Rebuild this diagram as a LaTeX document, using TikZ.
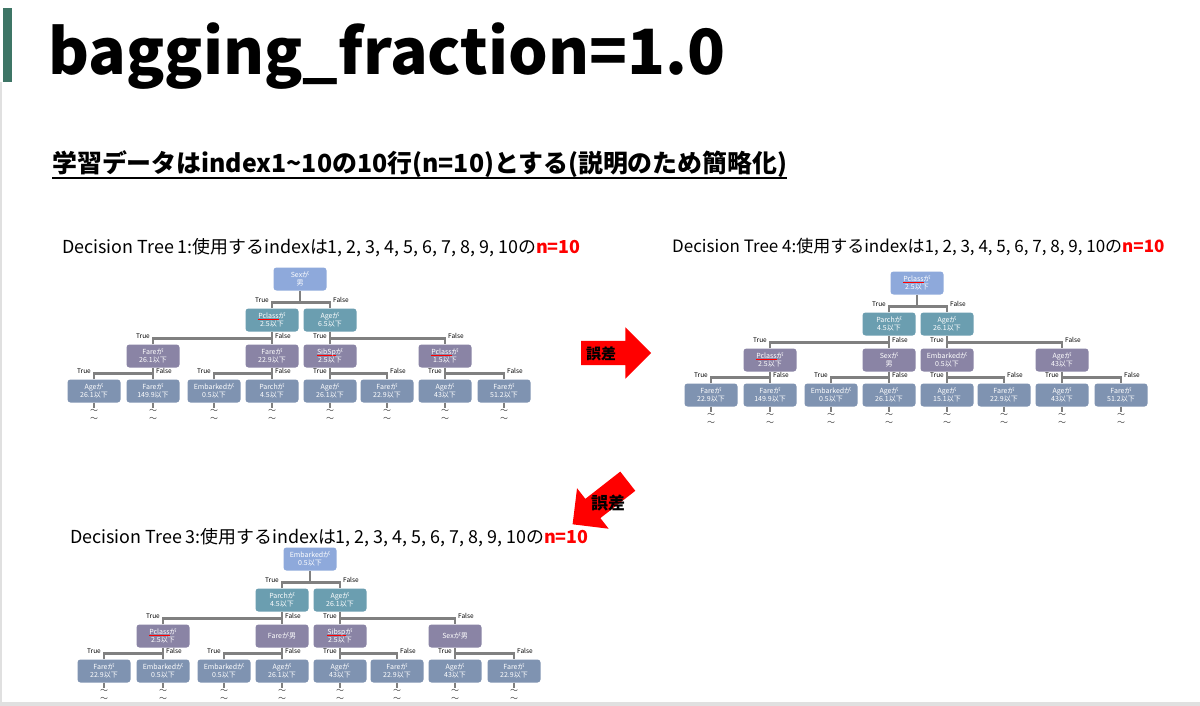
\documentclass[tikz,border=0pt]{standalone}
\usepackage{fontspec}
\setmainfont{Noto Sans CJK JP}
\usetikzlibrary{positioning,calc,shapes.arrows}

\definecolor{rootblue}{HTML}{8EA9DB}
\definecolor{splitteal}{HTML}{6B9EB0}
\definecolor{splitpurple}{HTML}{8A84A5}
\definecolor{leafslate}{HTML}{7F93B1}
\definecolor{edgegray}{HTML}{808080}
\definecolor{bargreen}{HTML}{3E7566}

\newcommand{\spell}[1]{\setbox0\hbox{#1}\rlap{\color{red}\rule[-1.3pt]{\wd0}{0.5pt}}#1}
\newcommand{\branch}[3]{%
  \coordinate (#1bar) at ($(#2.north)+(0,-6)$);
  \draw[edge] (#1.south) -- (#1.south |- #1bar);
  \draw[edge] (#2.north) |- (#1bar) -| (#3.north);
  \node[tf, anchor=east] at ($(#1bar)+(-3,-2)$) {True};
  \node[tf, anchor=west] at ($(#1bar -| #3.north)+(3,-2)$) {False};
}

\begin{document}
\begin{tikzpicture}[
    x=1pt, y=-1pt,
    dnode/.style={rounded corners=3pt, minimum width=53, minimum height=23, inner sep=1pt, align=center, text=white, font=\fontsize{7}{8.5}\selectfont},
    rootnode/.style={dnode, fill=rootblue},
    firstnode/.style={dnode, fill=splitteal},
    secondnode/.style={dnode, fill=splitpurple},
    leafnode/.style={dnode, fill=leafslate},
    edge/.style={draw=edgegray, line width=2.4},
    tf/.style={inner sep=0, font=\fontsize{6.5}{7}\selectfont},
    cont/.style={inner sep=0, align=center, text=black!75, font=\fontsize{8}{8.1}\selectfont},
    head/.style={anchor=west, inner sep=0, font=\fontsize{17.9}{20}\selectfont},
    errarrow/.style={single arrow, fill=red, minimum height=70, inner xsep=0, inner ysep=12, single arrow head extend=13.5},
    errtext/.style={inner sep=0, font=\bfseries\fontsize{15}{15}\selectfont}
]
\useasboundingbox[fill=white] (0,0) rectangle (1200,706);
\fill[black!12] (0,82) rectangle (2,706);
\fill[black!12] (0,702) rectangle (1200,706);
\fill[bargreen] (3,8) rectangle (12,82);

\node[anchor=base west, inner sep=0, font=\bfseries\fontsize{62.4}{70}\selectfont] (title) at (48,75) {bagging\_fraction=1.0};
\node[anchor=base west, inner sep=0, font=\bfseries\fontsize{24.9}{28}\selectfont] (subtitle) at (52,172) {学習データはindex1\textasciitilde 10の10行(n=10)とする(説明のため簡略化)};
\draw[line width=1.8] ([yshift=-1]subtitle.south west) -- ([yshift=-1]subtitle.south east);

\node[head] (head1) at (62,248) {Decision Tree 1:使用するindexは1, 2, 3, 4, 5, 6, 7, 8, 9, 10の\textcolor{red}{\bfseries n=10}};
\node[head, font=\fontsize{17}{19}\selectfont] (head4) at (672,247) {Decision Tree 4:使用するindexは1, 2, 3, 4, 5, 6, 7, 8, 9, 10の\textcolor{red}{\bfseries n=10}};
\node[head] (head3) at (70,538) {Decision Tree 3:使用するindexは1, 2, 3, 4, 5, 6, 7, 8, 9, 10の\textcolor{red}{\bfseries n=10}};

\node[errarrow] (err1) at (610,353) {};
\node[errtext] (err1txt) at (601,354) {誤差};
\node[errarrow, rotate=218] (err2) at (605,499) {};
\node[errtext, font=\bfseries\fontsize{17}{17}\selectfont] (err2txt) at (608,503) {誤差};

\begin{scope}[shift={(300,279)}]
\node[rootnode] (t1r) at (0,0) {Sexが\\男};
\node[firstnode] (t1a) at (-28,41) {\spell{Pclass}が\\2.5以下};
\node[firstnode] (t1b) at (30,41) {Ageが\\6.5以下};
\node[secondnode] (t1aa) at (-147,77) {Fareが\\26.1以下};
\node[secondnode] (t1ab) at (-28,77) {Fareが\\22.9以下};
\node[secondnode] (t1ba) at (30,77) {\spell{SibSp}が\\2.5以下};
\node[secondnode] (t1bb) at (145,77) {\spell{Pclass}が\\1.5以下};
\node[leafnode] (t1aaa) at (-206,112) {Ageが\\26.1以下};
\node[leafnode] (t1aab) at (-147,112) {Fareが\\149.9以下};
\node[leafnode] (t1aba) at (-86,112) {Embarkedが\\0.5以下};
\node[leafnode] (t1abb) at (-28,112) {Parchが\\4.5以下};
\node[leafnode] (t1baa) at (30,112) {Ageが\\26.1以下};
\node[leafnode] (t1bab) at (87,112) {Fareが\\22.9以下};
\node[leafnode] (t1bba) at (145,112) {Ageが\\43以下};
\node[leafnode] (t1bbb) at (204,112) {Fareが\\51.2以下};
\end{scope}

\begin{scope}[shift={(917,283)}]
\node[rootnode] (t4r) at (0,0) {\spell{Pclass}が\\2.5以下};
\node[firstnode] (t4a) at (-28,41) {Parchが\\4.5以下};
\node[firstnode] (t4b) at (30,41) {Ageが\\26.1以下};
\node[secondnode] (t4aa) at (-147,77) {\spell{Pclass}が\\2.5以下};
\node[secondnode] (t4ab) at (-28,77) {Sexが\\男};
\node[secondnode] (t4ba) at (30,77) {Embarkedが\\0.5以下};
\node[secondnode] (t4bb) at (145,77) {Ageが\\43以下};
\node[leafnode] (t4aaa) at (-206,112) {Fareが\\22.9以下};
\node[leafnode] (t4aab) at (-147,112) {Fareが\\149.9以下};
\node[leafnode] (t4aba) at (-86,112) {Embarkedが\\0.5以下};
\node[leafnode] (t4abb) at (-28,112) {Ageが\\26.1以下};
\node[leafnode] (t4baa) at (30,112) {Ageが\\15.1以下};
\node[leafnode] (t4bab) at (87,112) {Fareが\\22.9以下};
\node[leafnode] (t4bba) at (145,112) {Ageが\\43以下};
\node[leafnode] (t4bbb) at (204,112) {Fareが\\51.2以下};
\end{scope}

\begin{scope}[shift={(310,559)}]
\node[rootnode] (t3r) at (0,0) {Embarkedが\\0.5以下};
\node[firstnode] (t3a) at (-28,41) {Parchが\\4.5以下};
\node[firstnode] (t3b) at (30,41) {Ageが\\26.1以下};
\node[secondnode] (t3aa) at (-147,77) {\spell{Pclass}が\\2.5以下};
\node[secondnode] (t3ab) at (-28,77) {Fareが男};
\node[secondnode] (t3ba) at (30,77) {\spell{Sibsp}が\\2.5以下};
\node[secondnode] (t3bb) at (145,77) {Sexが男};
\node[leafnode] (t3aaa) at (-206,112) {Fareが\\22.9以下};
\node[leafnode] (t3aab) at (-147,112) {Embarkedが\\0.5以下};
\node[leafnode] (t3aba) at (-86,112) {Embarkedが\\0.5以下};
\node[leafnode] (t3abb) at (-28,112) {Ageが\\26.1以下};
\node[leafnode] (t3baa) at (30,112) {Ageが\\43以下};
\node[leafnode] (t3bab) at (87,112) {Fareが\\22.9以下};
\node[leafnode] (t3bba) at (145,112) {Ageが\\43以下};
\node[leafnode] (t3bbb) at (204,112) {Fareが\\22.9以下};
\end{scope}

\foreach \tn in {t1,t4,t3} {
  \branch{\tn r}{\tn a}{\tn b}
  \branch{\tn a}{\tn aa}{\tn ab}
  \branch{\tn b}{\tn ba}{\tn bb}
  \branch{\tn aa}{\tn aaa}{\tn aab}
  \branch{\tn ab}{\tn aba}{\tn abb}
  \branch{\tn ba}{\tn baa}{\tn bab}
  \branch{\tn bb}{\tn bba}{\tn bbb}
  \foreach \lf in {aaa,aab,aba,abb,baa,bab,bba,bbb} {
    \node[cont, below=6pt of \tn\lf] (\tn\lf c) {～\\～};
    \draw[edge, line width=2] (\tn\lf.south) -- ++(0,5);
  }
}
\end{tikzpicture}
\end{document}
